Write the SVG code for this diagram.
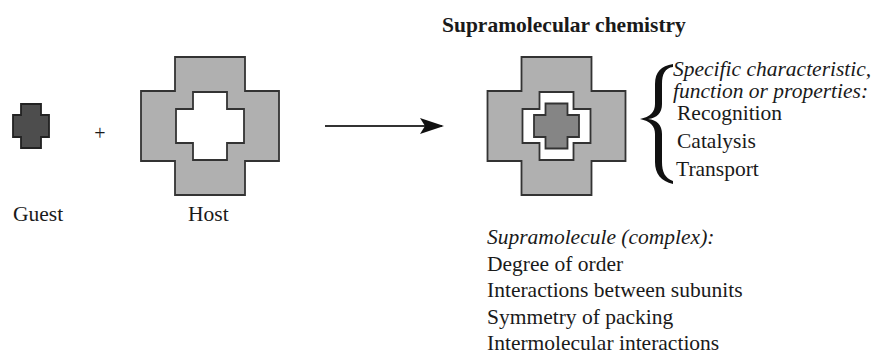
<svg xmlns="http://www.w3.org/2000/svg" width="876" height="356" viewBox="0 0 876 356">
<style>
.host{fill:#b0b0b0;stroke:#333;stroke-width:1.8}
.cav{fill:#fff;stroke:#333;stroke-width:1.8}
.gst{fill:#4d4d4d;stroke:#222;stroke-width:1.8}
.gin{fill:#858585;stroke:#333;stroke-width:1.8}
.conn{stroke:#333;stroke-width:2;fill:none}
</style>
<defs>
<marker id="ah" viewBox="0 0 24 16" refX="22" refY="8" markerWidth="24" markerHeight="16" markerUnits="userSpaceOnUse" orient="auto">
<path d="M0,0 L24,8 L0,16 L5,8 Z" fill="#111"/>
</marker>
</defs>
<g font-family="'Liberation Serif', 'Times New Roman', serif" font-size="21.5" fill="#1a1a1a">
<g id="title"><text font-weight="bold" x="442" y="32">Supramolecular chemistry</text></g>
<g id="guest">
<path class="gst" d="M21,104 H41 V115 H49 V137 H41 V148 H21 V137 H13 V115 H21 Z"/>
<text x="13" y="221">Guest</text>
</g>
<g id="plus"><text x="100" y="140" text-anchor="middle" font-size="20">+</text></g>
<g id="host">
<path class="host" d="M175,57 H245 V91 H279 V161 H245 V195 H175 V161 H141 V91 H175 Z"/>
<path class="cav" d="M193,92 H227 V109 H244 V143 H227 V160 H193 V143 H176 V109 H193 Z"/>
<text x="188" y="221">Host</text>
</g>
<g id="complex">
<path class="host" d="M521.5,57 H591.5 V91 H625.5 V161 H591.5 V195 H521.5 V161 H487.5 V91 H521.5 Z"/>
<path class="cav" d="M539.5,92 H573.5 V109 H590.5 V143 H573.5 V160 H539.5 V143 H522.5 V109 H539.5 Z"/>
<path class="gin" d="M545.5,103.5 H567.5 V115 H579 V137 H567.5 V148.5 H545.5 V137 H534 V115 H545.5 Z"/>
</g>
<g id="properties">
<path d="M673,64 C661,66 655,72 655,84 L655,104 C655,112 650,117 640,119 C650,121 655,126 655,134 L655,162 C655,174 661,181 673,184 L673,181 C665,178 662,172 662,162 L662,134 C662,125 657,120 648,119 C657,118 662,113 662,104 L662,84 C662,74 665,68 673,67 Z" fill="#111"/>
<text font-style="italic" x="673" y="76">Specific characteristic,</text>
<text font-style="italic" x="673" y="98">function or properties:</text>
<text x="677" y="120">Recognition</text>
<text x="677" y="148">Catalysis</text>
<text x="676" y="176">Transport</text>
</g>
<g id="supramolecule">
<text font-style="italic" x="487" y="244">Supramolecule (complex):</text>
<text x="487" y="271">Degree of order</text>
<text x="487" y="297">Interactions between subunits</text>
<text x="487" y="324">Symmetry of packing</text>
<text x="487" y="350">Intermolecular interactions</text>
</g>
</g>
<g id="connectors">
<line class="conn" x1="325" y1="126" x2="442" y2="126" marker-end="url(#ah)"/>
</g>
</svg>
